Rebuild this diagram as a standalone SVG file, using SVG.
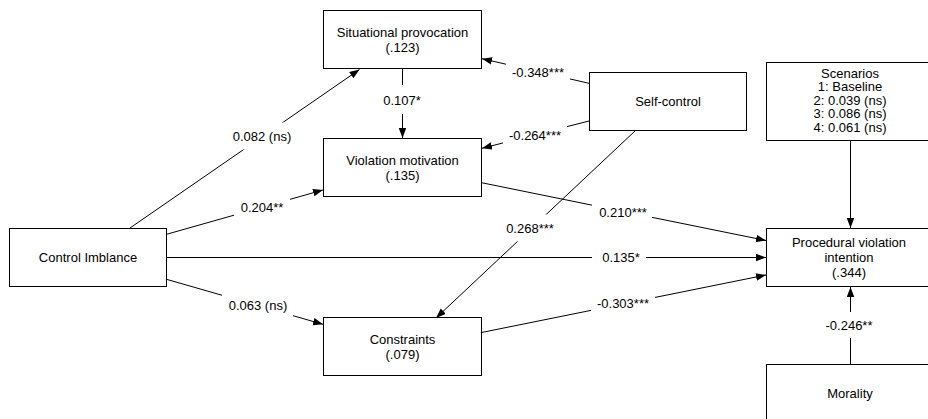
<svg xmlns="http://www.w3.org/2000/svg" width="928" height="419" viewBox="0 0 928 419">
  <style>
    .box { fill: #ffffff; stroke: #000000; stroke-width: 1; }
    .edge { fill: none; stroke: #000000; stroke-width: 1; }
    .lbg { fill: #ffffff; stroke: none; }
    text { font-family: "Liberation Sans", Arial, Helvetica, sans-serif; font-size: 13px; fill: #000000; text-anchor: middle; dominant-baseline: central; }
  </style>
  <defs>
    <marker id="arrow" markerUnits="userSpaceOnUse" markerWidth="10" markerHeight="8" refX="10" refY="3.75" orient="auto">
      <path d="M0,0 L10,3.75 L0,7.5 z" fill="#000000"/>
    </marker>
  </defs>

  <rect width="928" height="419" fill="#ffffff"/>

  <!-- connectors -->
  <g id="connectors">
    <path class="edge" d="M130,228 L359.5,69.5" marker-end="url(#arrow)"/>
    <path class="edge" d="M166.5,234.3 L323,190" marker-end="url(#arrow)"/>
    <path class="edge" d="M166.5,257.5 L766,257.5" marker-end="url(#arrow)"/>
    <path class="edge" d="M166.5,279.3 L323,324.3" marker-end="url(#arrow)"/>
    <path class="edge" d="M402.5,69 L402.5,138" marker-end="url(#arrow)"/>
    <path class="edge" d="M589,83.3 L482,58.7" marker-end="url(#arrow)"/>
    <path class="edge" d="M589,121 L482,148.3" marker-end="url(#arrow)"/>
    <path class="edge" d="M635,131 L436,318" marker-end="url(#arrow)"/>
    <path class="edge" d="M481.5,182.7 L766,240.5" marker-end="url(#arrow)"/>
    <path class="edge" d="M481.5,332.5 L766,275" marker-end="url(#arrow)"/>
    <path class="edge" d="M850.5,140.5 L850.5,228" marker-end="url(#arrow)"/>
    <path class="edge" d="M850.5,364 L850.5,287" marker-end="url(#arrow)"/>

    <!-- path coefficients -->
    <g id="edge-labels">
      <rect class="lbg" x="226" y="122.5" width="71" height="27"/>
      <text x="262" y="136">0.082 (ns)</text>

      <rect class="lbg" x="234" y="193.5" width="56" height="27"/>
      <text x="262" y="207">0.204**</text>

      <rect class="lbg" x="592" y="244" width="54" height="27"/>
      <text x="621" y="257">0.135*</text>

      <rect class="lbg" x="222" y="292" width="71" height="27"/>
      <text x="258" y="305.5">0.063 (ns)</text>

      <rect class="lbg" x="381" y="85" width="43" height="29"/>
      <text x="402" y="100">0.107*</text>

      <rect class="lbg" x="506" y="58.5" width="64" height="27"/>
      <text x="538" y="72">-0.348***</text>

      <rect class="lbg" x="503" y="121.5" width="64" height="27"/>
      <text x="535" y="135">-0.264***</text>

      <rect class="lbg" x="501" y="214.5" width="58" height="27"/>
      <text x="530" y="228.5">0.268***</text>

      <rect class="lbg" x="592" y="198.5" width="60" height="27"/>
      <text x="623" y="212">0.210***</text>

      <rect class="lbg" x="591" y="289.5" width="64" height="27"/>
      <text x="623" y="303">-0.303***</text>

      <rect class="lbg" x="822" y="312" width="56" height="26"/>
      <text x="849" y="325">-0.246**</text>
    </g>
  </g>

  <!-- nodes -->
  <g id="situational-provocation">
    <rect class="box" x="323.5" y="10.5" width="158" height="58"/>
    <text x="402.5" y="32">Situational provocation</text>
    <text x="402.5" y="47">(.123)</text>
  </g>

  <g id="violation-motivation">
    <rect class="box" x="323.5" y="138.5" width="158" height="58"/>
    <text x="402.5" y="160">Violation motivation</text>
    <text x="402.5" y="175">(.135)</text>
  </g>

  <g id="constraints">
    <rect class="box" x="323.5" y="317.5" width="158" height="58"/>
    <text x="402.5" y="339">Constraints</text>
    <text x="402.5" y="354.5">(.079)</text>
  </g>

  <g id="control-imbalance">
    <rect class="box" x="9.5" y="228.5" width="157" height="58"/>
    <text x="88" y="257">Control Imblance</text>
  </g>

  <g id="self-control">
    <rect class="box" x="589.5" y="72.5" width="157" height="58"/>
    <text x="668" y="101.5">Self-control</text>
  </g>

  <g id="scenarios">
    <rect class="box" x="766.5" y="62.5" width="170" height="78"/>
    <text x="850" y="73">Scenarios</text>
    <text x="850" y="86.5">1: Baseline</text>
    <text x="850" y="100">2: 0.039 (ns)</text>
    <text x="850" y="113.5">3: 0.086 (ns)</text>
    <text x="850" y="127">4: 0.061 (ns)</text>
  </g>

  <g id="procedural-violation-intention">
    <rect class="box" x="766.5" y="228.5" width="170" height="58"/>
    <text x="849" y="242">Procedural violation</text>
    <text x="849" y="257">intention</text>
    <text x="849" y="272">(.344)</text>
  </g>

  <g id="morality">
    <rect class="box" x="766.5" y="364.5" width="170" height="70"/>
    <text x="850" y="393">Morality</text>
  </g>
</svg>
